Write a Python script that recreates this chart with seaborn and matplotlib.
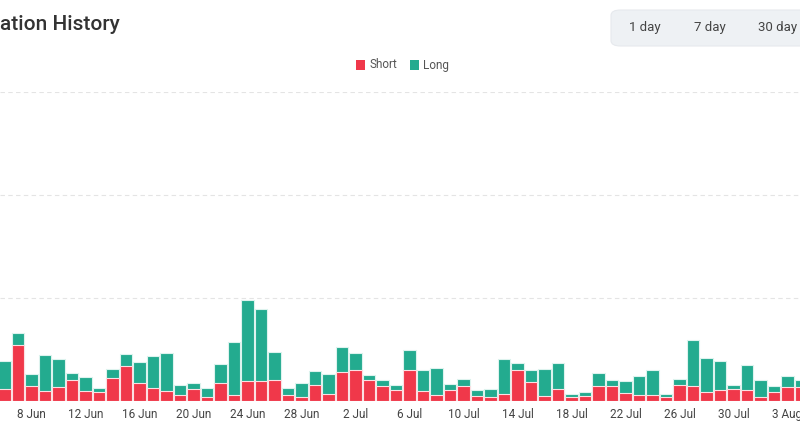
import pandas as pd
import numpy as np
import matplotlib
matplotlib.use('Agg')
import matplotlib.pyplot as plt
import seaborn as sns
from matplotlib.patches import FancyBboxPatch, Rectangle

# daily liquidations, 6 Jun .. 4 Aug
dates = pd.date_range('2023-06-06', '2023-08-04', freq='D')
day_labels = [f"{d.day} {d.strftime('%b')}" for d in dates]

short_vals = [1.2, 5.4, 1.45, 1.0, 1.35, 2.0, 0.95, 0.85, 2.2, 3.4,
              1.7, 1.3, 0.95, 0.6, 1.2, 0.35, 1.7, 0.6, 1.95, 1.95,
              2.0, 0.55, 0.35, 1.55, 0.65, 2.8, 3.0, 2.05, 1.5, 1.05,
              3.0, 0.95, 0.55, 1.05, 1.5, 0.5, 0.4, 0.65, 3.0, 1.85,
              0.5, 1.15, 0.4, 0.45, 1.5, 1.5, 0.8, 0.6, 0.6, 0.35,
              1.6, 1.5, 0.9, 1.05, 1.15, 1.05, 0.35, 0.9, 1.35, 1.35]
long_vals = [2.7, 1.2, 1.15, 3.5, 2.75, 0.7, 1.35, 0.4, 0.9, 1.2,
             2.05, 3.05, 3.75, 1.0, 0.5, 0.9, 1.9, 5.1, 7.85, 6.95,
             2.75, 0.75, 1.35, 1.35, 2.0, 2.45, 1.7, 0.45, 0.55, 0.55,
             1.95, 2.1, 2.65, 0.6, 0.6, 0.55, 0.75, 3.45, 0.7, 1.15,
             2.6, 2.55, 0.3, 0.4, 1.2, 0.5, 1.1, 1.8, 2.45, 0.35,
             0.5, 4.45, 3.25, 2.85, 0.45, 2.4, 1.7, 0.55, 1.1, 0.7]

tick_idx = list(range(2, len(dates), 4))
tick_labels = [day_labels[i] for i in tick_idx]

red = '#F0384A'
green = '#23AB8F'

df = pd.DataFrame({'day': day_labels, 'short': short_vals, 'long': long_vals})
df['total'] = df['short'] + df['long']

sns.set_style('white')
plt.rcParams['font.family'] = ['Roboto', 'DejaVu Sans']

fig = plt.figure(figsize=(8, 4.45), dpi=100)
ax = fig.add_axes([0, 44 / 445, 1, 309 / 445])

sns.barplot(data=df, x='day', y='total', order=day_labels, color=green,
            saturation=1, width=0.92, edgecolor='#DDF3EE', linewidth=0.8, ax=ax)
sns.barplot(data=df, x='day', y='short', order=day_labels, color=red,
            saturation=1, width=0.92, edgecolor='#FBE0E3', linewidth=0.8, ax=ax)

ax.set_xlim(-0.333, 58.93)
ax.set_ylim(0, 30)
ax.set_yticks([10, 20, 30])
ax.set_yticklabels([])
ax.grid(axis='y', color='#E4E4E4', linestyle=(0, (4, 3)), linewidth=0.8)
ax.set_axisbelow(True)
ax.set_xticks(tick_idx)
ax.set_xticklabels(tick_labels, fontsize=8.5, color='#444444')
ax.tick_params(axis='x', length=0, pad=5)
ax.tick_params(axis='y', length=0)
ax.set_xlabel('')
ax.set_ylabel('')
for s in ax.spines.values():
    s.set_visible(False)

# title (cropped on the left in the source)
fig.text(0.0, 1 - 25 / 445, 'ation History', fontsize=15, color='#333333',
         fontweight='medium', va='center', ha='left')

# range buttons
fig.patches.append(FancyBboxPatch((611 / 800, 1 - 46 / 445), 200 / 800, 36 / 445,
                                  boxstyle='round,pad=0,rounding_size=0.012',
                                  transform=fig.transFigure, facecolor='#EEF1F4',
                                  edgecolor='#E6E9ED', linewidth=0.8))
for lbl, xp in [('1 day', 645), ('7 day', 710), ('30 day', 778)]:
    fig.text(xp / 800, 1 - 28 / 445, lbl, fontsize=9.5, color='#444444',
             ha='center', va='center')

# legend
ly = 1 - 65 / 445
for col, lbl, xp in [(red, 'Short', 356), (green, 'Long', 410)]:
    fig.patches.append(Rectangle((xp / 800, ly - 5 / 445), 9 / 800, 10 / 445,
                                 transform=fig.transFigure, facecolor=col,
                                 edgecolor='none'))
    fig.text((xp + 13) / 800, ly, lbl, fontsize=8.5, color='#555555',
             ha='left', va='center')

fig.savefig('out.png', dpi=100, facecolor='white')
